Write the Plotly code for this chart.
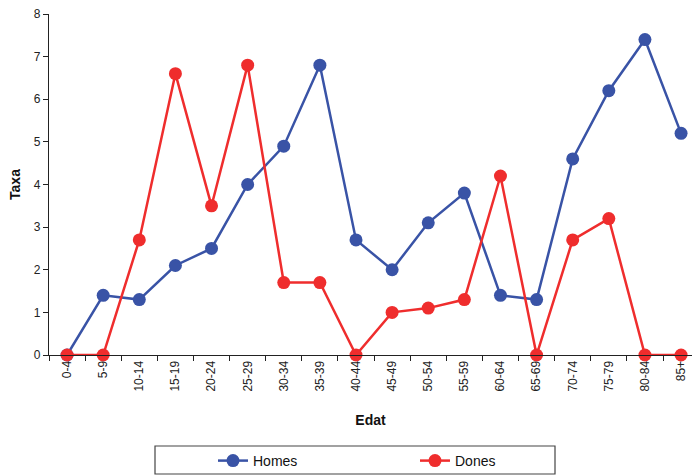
import plotly.graph_objects as go

categories = ["0-4", "5-9", "10-14", "15-19", "20-24", "25-29", "30-34", "35-39",
              "40-44", "45-49", "50-54", "55-59", "60-64", "65-69", "70-74",
              "75-79", "80-84", "85+"]
homes = [0, 1.4, 1.3, 2.1, 2.5, 4.0, 4.9, 6.8, 2.7, 2.0, 3.1, 3.8, 1.4, 1.3, 4.6, 6.2, 7.4, 5.2]
dones = [0, 0, 2.7, 6.6, 3.5, 6.8, 1.7, 1.7, 0, 1.0, 1.1, 1.3, 4.2, 0, 2.7, 3.2, 0, 0]

blue = "#3953A6"
red = "#EF2D2D"

W, H = 692, 475
L, R, T = 49, 0, 14
B = H - 355
pw, ph = W - L - R, H - T - B
step = (681 - 67) / 17.0  # pixels per category in the reference
xmax = -0.5 + pw / step

def sx(px):  # screen x -> paper
    return (px - L) / pw

def sy(py):  # screen y -> paper
    return (H - B - py) / ph

fig = go.Figure()
fig.add_trace(go.Scatter(x=categories, y=homes, name="Homes", mode="lines+markers",
                         line=dict(color=blue, width=2.5), cliponaxis=False,
                         marker=dict(color=blue, size=13)))
fig.add_trace(go.Scatter(x=categories, y=dones, name="Dones", mode="lines+markers",
                         line=dict(color=red, width=2.5), cliponaxis=False,
                         marker=dict(color=red, size=13)))

fig.update_layout(
    width=W, height=H,
    margin=dict(l=L, r=R, t=T, b=B, autoexpand=False),
    plot_bgcolor="white", paper_bgcolor="white",
    font=dict(family="Liberation Sans, Arial, sans-serif", size=12, color="#222"),
    showlegend=True,
    legend=dict(orientation="h", xref="container", yref="container",
                x=213 / W, y=(H - 445) / H, xanchor="left", yanchor="top",
                entrywidth=157, entrywidthmode="pixels",
                font=dict(size=14, color="#111"), bgcolor="rgba(0,0,0,0)",
                itemwidth=30),
    shapes=[dict(type="rect", xref="paper", yref="paper",
                 x0=sx(155), x1=sx(555), y0=sy(446), y1=sy(474),
                 line=dict(color="#444", width=1.2), fillcolor="rgba(0,0,0,0)")],
)

fig.update_xaxes(
    type="category", range=[-0.5, xmax], tickangle=-90, automargin=False,
    tickson="boundaries", ticks="outside", ticklen=5, tickcolor="#222",
    ticklabeloverflow="allow",
    showline=True, linecolor="#222", linewidth=1.2, showgrid=False, zeroline=False,
    tickfont=dict(size=12, color="#222"),
    title=dict(text="<b>Edat</b>", font=dict(size=14, color="#111"), standoff=24),
)
fig.update_yaxes(
    range=[0, 8], dtick=1, ticks="outside", ticklen=5, tickcolor="#222", automargin=False,
    ticklabeloverflow="allow",
    showline=True, linecolor="#222", linewidth=1.2, showgrid=False, zeroline=False,
    tickfont=dict(size=12, color="#222"),
    title=dict(text="<b>Taxa</b>", font=dict(size=14, color="#111"), standoff=9),
)

fig.write_html(
    "out.html",
    config={"displayModeBar": False},
    post_script="document.body.style.margin='0';document.body.style.overflow='hidden';",
)
